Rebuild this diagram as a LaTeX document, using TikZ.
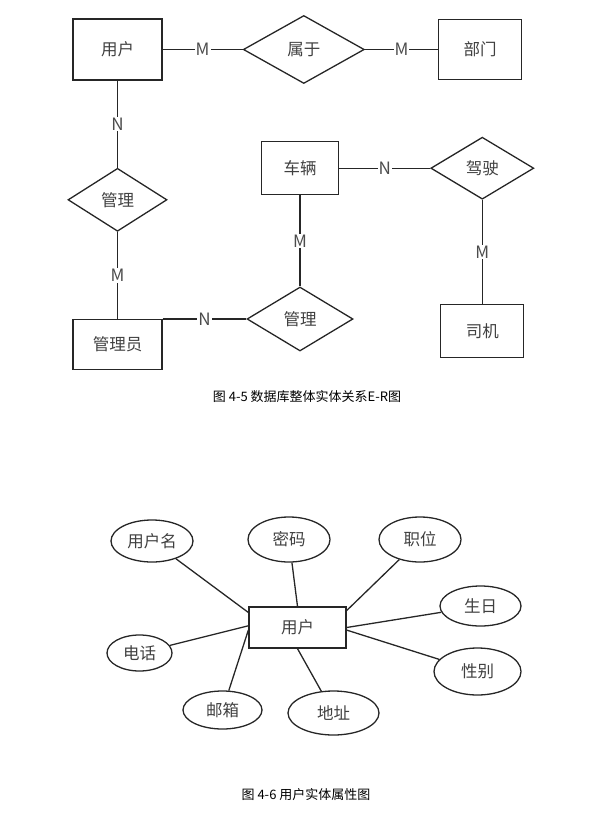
\documentclass[tikz,border=0pt]{standalone}
\usepackage{fontspec}
\setmainfont{Noto Sans CJK SC}
\usetikzlibrary{positioning,shapes.geometric}

\begin{document}
\begin{tikzpicture}[
    x=1pt, y=-1pt,
    font=\fontsize{16.5}{19}\selectfont,
    line/.style={draw=black!85, line width=1.3pt},
    entity/.style={rectangle, line, text=black!75, minimum width=89pt,
        minimum height=61pt, inner sep=0pt},
    rel/.style={diamond, line, text=black!75, minimum width=121pt,
        minimum height=68pt, inner sep=0pt},
    attr/.style={ellipse, line, text=black!75, minimum width=82pt,
        minimum height=42pt, inner sep=0pt},
    card/.style={fill=white, inner sep=1pt, text=black!70,
        font=\fontsize{17}{19}\selectfont},
    caption/.style={text=black, font=\fontsize{13}{15}\selectfont}
]
    \useasboundingbox (0,0) rectangle (597,826);

    % E-R diagram
    \node[entity] (user) at (117.5,49.5) {用户};
    \node[rel, right=80pt of user] (belong) {属于};
    \node[entity, minimum width=83pt, minimum height=60pt, right=73pt of belong] (dept) {部门};
    \node[rel, minimum width=99pt, minimum height=63pt, below=87pt of user] (manage) {管理};
    \node[entity, minimum height=50pt, below=87pt of manage] (admin) {管理员};
    \node[rel, minimum width=106pt, minimum height=64pt] (manageb) at (300,319) {管理};
    \node[entity, minimum width=77pt, minimum height=53pt, above=91pt of manageb] (car) {车辆};
    \node[rel, minimum width=103pt, minimum height=62pt, right=91pt of car] (drive) {驾驶};
    \node[entity, minimum width=83pt, minimum height=53pt, below=104pt of drive] (driver) {司机};

    \draw[line] (user) -- node[card] {M} (belong);
    \draw[line] (belong) -- node[card] {M} (dept);
    \draw[line] (user) -- node[card] {N} (manage);
    \draw[line] (manage) -- node[card] {M} (admin);
    \draw[line] (admin.east |- manageb) -- node[card] {N} (manageb);
    \draw[line] (car) -- node[card] {M} (manageb);
    \draw[line] (car) -- node[card] {N} (drive);
    \draw[line] (drive) -- node[card] {M} (driver);

    \node[caption] (cap1) at (307,397) {图 4-5 数据库整体实体关系E-R图};

    % user attributes
    \node[entity, minimum width=97pt, minimum height=41pt] (ent) at (297.5,627.5) {用户};
    \node[attr] (uname) at (152,541) {用户名};
    \node[attr, minimum height=45pt] (pwd) at (289,539.5) {密码};
    \node[attr, minimum height=45pt] (post) at (420,539.5) {职位};
    \node[attr, minimum width=81pt, minimum height=40pt] (birth) at (480.5,606) {生日};
    \node[attr, minimum width=65pt, minimum height=36pt] (phone) at (139.5,653) {电话};
    \node[attr, minimum width=79pt, minimum height=38pt] (mail) at (222.5,710) {邮箱};
    \node[attr, minimum width=91pt, minimum height=44pt] (addr) at (333.5,713) {地址};
    \node[attr, minimum width=87pt, minimum height=47pt] (sex) at (477.5,671.5) {性别};

    \draw[line] (uname) -- (ent.163);
    \draw[line] (pwd) -- (ent.north);
    \draw[line] (post) -- (ent.19);
    \draw[line] (birth) -- (ent.east);
    \draw[line] (sex) -- (ent.-3);
    \draw[line] (addr) -- (ent.south);
    \draw[line] (mail) -- (ent.183);
    \draw[line] (phone) -- (ent.178);

    \node[caption] (cap2) at (306,795) {图 4-6 用户实体属性图};
\end{tikzpicture}
\end{document}
